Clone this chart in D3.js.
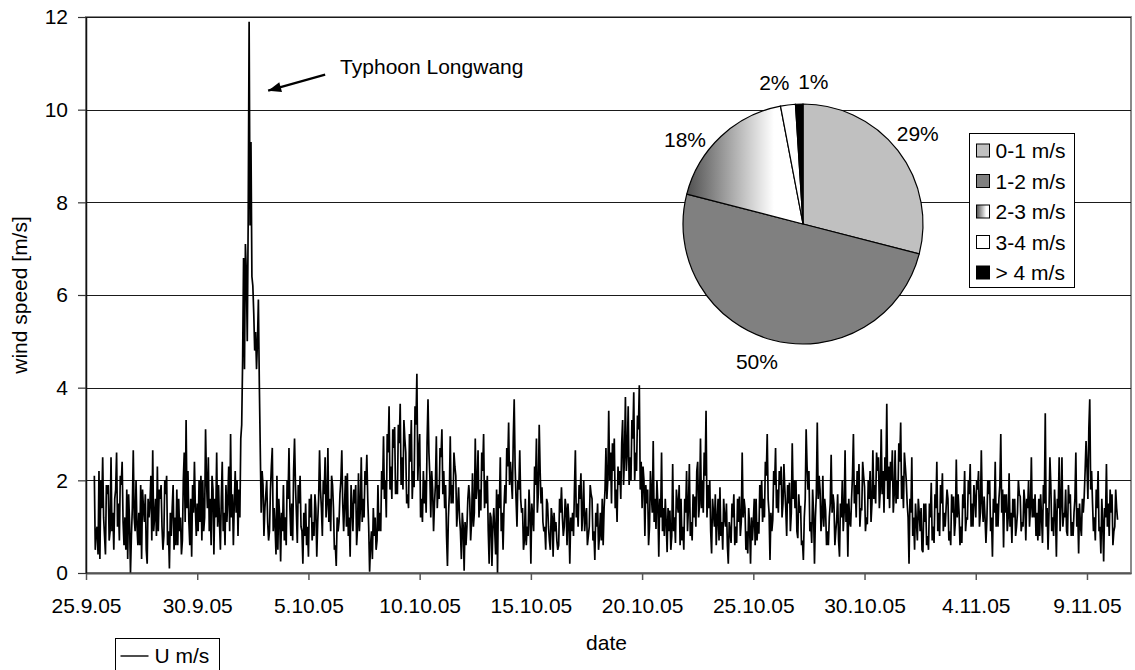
<!DOCTYPE html>
<html>
<head>
<meta charset="utf-8">
<script src="https://cdn.jsdelivr.net/npm/d3@7"></script>
<style>
  body { margin: 0; background: #fff; }
  text { font-family: "Liberation Sans", Arial, sans-serif; font-size: 21px; fill: #000; }
</style>
</head>
<body>
<svg id="chart" width="1135" height="670"></svg>
<script>
// Hourly wind speed [m/s] from 25.9.05 09:00, one row of 24 values per day
const firstSample = "25.9.05 09:00";
const stepMinutes = 60;
const windSpeed = [
  2.1, 0.5, 0.9, 1.0, 0.4, 2.2, 0.3, 2.0, 1.4, 2.5, 1.2, 0.8, 0.4, 1.9, 1.7, 1.9, 0.7, 0.9, 2.5, 0.9, 1.3, 0.5, 1.6, 1.8,
  2.6, 1.0, 1.5, 0.7, 2.1, 1.9, 2.4, 1.1, 0.6, 1.2, 0.5, 1.8, 0.3, 1.7, 1.1, 0.0, 0.8, 1.4, 2.65, 1.2, 0.9, 2.0, 1.0, 0.6,
  1.3, 0.6, 1.9, 0.3, 1.8, 1.4, 1.1, 1.7, 0.5, 0.2, 1.6, 1.2, 1.5, 2.1, 0.7, 2.65, 0.9, 1.2, 1.6, 0.8, 2.3, 0.9, 1.8, 1.6,
  1.9, 1.0, 0.5, 0.8, 2.0, 1.7, 2.1, 0.6, 0.9, 0.1, 1.3, 0.8, 1.4, 1.9, 0.5, 1.2, 0.6, 1.8, 0.6, 1.6, 0.9, 1.2, 0.4, 0.7,
  2.0, 2.6, 1.1, 3.3, 1.4, 2.2, 1.1, 0.6, 1.6, 0.35, 1.9, 1.3, 2.4, 1.4, 0.8, 1.5, 0.9, 2.0, 1.1, 2.1, 0.7, 2.0, 0.9, 1.2,
  3.1, 2.0, 1.4, 2.5, 0.9, 1.6, 0.6, 2.1, 1.8, 0.4, 1.6, 1.2, 2.6, 1.0, 1.9, 1.1, 0.5, 1.6, 2.4, 0.9, 1.3, 0.6, 1.9, 1.1,
  1.6, 2.3, 0.9, 3.0, 1.2, 1.7, 0.6, 1.5, 2.2, 1.3, 2.0, 0.8, 1.8, 1.2, 2.9, 3.2, 4.6, 6.8, 4.4, 7.1, 6.5, 5.0, 7.6, 11.9,
  7.5, 9.3, 6.4, 6.2, 5.6, 4.8, 5.2, 4.4, 5.0, 5.9, 4.1, 2.7, 1.3, 2.2, 1.9, 0.8, 1.4, 1.7, 2.0, 1.1, 0.7, 0.9, 1.8, 2.3,
  2.7, 0.9, 1.4, 1.0, 0.4, 2.1, 0.5, 1.6, 1.2, 0.25, 1.3, 0.9, 1.9, 0.7, 1.2, 0.6, 2.0, 1.6, 2.7, 1.4, 0.8, 1.5, 0.7, 2.2,
  2.9, 1.9, 1.3, 0.65, 1.9, 1.5, 2.1, 1.0, 0.9, 0.2, 1.3, 0.8, 1.5, 0.6, 1.0, 0.35, 1.6, 1.2, 1.7, 0.7, 1.1, 0.8, 1.7, 1.4,
  0.35, 1.1, 1.6, 2.65, 1.8, 1.4, 0.8, 2.0, 1.7, 2.5, 1.2, 1.5, 2.7, 1.1, 1.6, 0.9, 2.1, 1.9, 1.4, 0.5, 0.6, 0.15, 1.2, 0.9,
  1.1, 1.7, 2.0, 2.65, 1.5, 0.9, 1.5, 2.1, 1.0, 2.15, 0.8, 1.2, 0.35, 1.9, 1.4, 0.9, 1.8, 1.5, 1.9, 0.6, 1.0, 2.15, 0.9, 1.4,
  2.5, 1.1, 1.6, 1.2, 2.2, 1.9, 2.55, 1.6, 1.0, 0.03, 0.6, 0.9, 0.3, 1.4, 0.8, 1.2, 0.5, 0.7, 1.9, 0.9, 1.3, 0.9, 2.2, 1.8,
  2.95, 1.6, 2.0, 1.2, 3.0, 2.6, 3.6, 1.8, 2.3, 1.6, 3.1, 2.7, 3.15, 1.7, 2.0, 1.7, 3.2, 2.8, 3.65, 1.9, 2.5, 1.8, 3.3, 2.9,
  2.6, 1.5, 1.7, 1.4, 3.0, 2.4, 3.3, 1.6, 2.2, 1.85, 3.6, 3.2, 4.3, 2.0, 2.6, 3.0, 1.2, 1.6, 1.1, 2.2, 1.5, 2.0, 1.3, 2.8,
  3.75, 2.6, 2.1, 1.2, 2.2, 1.8, 0.9, 1.5, 1.9, 2.95, 1.4, 1.9, 1.6, 2.7, 2.5, 3.1, 1.7, 2.2, 1.4, 1.9, 0.8, 0.15, 1.2, 1.7,
  2.95, 1.5, 1.9, 1.5, 2.6, 2.3, 2.1, 1.0, 1.4, 1.85, 1.2, 0.9, 0.3, 1.3, 1.0, 0.05, 1.1, 0.6, 1.0, 1.6, 1.9, 1.6, 0.7, 1.1,
  2.15, 1.0, 1.3, 2.9, 1.6, 1.9, 2.65, 1.2, 1.8, 1.35, 2.6, 2.2, 3.0, 1.4, 2.0, 1.5, 2.1, 0.9, 0.2, 1.3, 1.2, 0.15, 1.0, 1.4,
  0.9, 0.4, 1.8, 0.0, 1.7, 1.4, 2.5, 0.9, 1.3, 0.5, 1.4, 1.9, 1.5, 2.7, 2.3, 3.25, 1.9, 2.4, 2.0, 1.6, 2.9, 3.75, 2.3, 1.6,
  1.0, 2.0, 1.8, 2.65, 1.6, 1.3, 1.4, 0.5, 0.7, 1.6, 0.6, 1.0, 0.8, 1.8, 1.3, 0.2, 1.5, 1.2, 0.9, 2.3, 1.9, 2.9, 1.3, 1.7,
  3.2, 2.2, 1.5, 1.85, 1.1, 0.9, 1.0, 0.5, 1.6, 1.5, 1.0, 0.7, 0.5, 1.4, 1.2, 0.35, 1.3, 0.9, 1.1, 0.7, 0.5, 0.6, 1.6, 1.3,
  1.85, 1.2, 0.8, 1.0, 1.6, 1.4, 0.6, 1.5, 1.1, 0.2, 1.2, 0.9, 1.3, 0.8, 1.8, 2.65, 1.2, 1.5, 1.0, 1.9, 1.6, 2.15, 0.9, 1.3,
  2.0, 0.9, 1.2, 1.4, 0.6, 0.8, 1.0, 1.9, 1.7, 1.6, 0.7, 0.9, 0.28, 1.3, 1.0, 1.5, 0.5, 0.8, 1.3, 0.7, 1.6, 0.6, 1.4, 1.8,
  2.7, 1.6, 2.0, 3.5, 2.0, 2.6, 1.5, 2.8, 2.2, 2.9, 1.4, 1.8, 1.1, 2.3, 1.9, 2.2, 1.6, 2.8, 3.3, 1.9, 2.5, 3.8, 2.2, 2.6,
  3.6, 1.9, 2.5, 2.0, 3.3, 2.9, 3.9, 2.0, 2.6, 2.2, 3.4, 3.1, 4.05, 1.8, 2.4, 1.4, 2.3, 2.0, 0.8, 1.9, 1.5, 1.8, 0.6, 1.0,
  2.2, 1.7, 1.3, 2.85, 1.1, 1.6, 0.95, 2.0, 1.5, 0.35, 1.6, 1.2, 2.6, 0.9, 1.4, 0.8, 1.6, 1.1, 0.45, 1.4, 0.9, 1.35, 0.5, 0.8,
  2.35, 0.9, 1.2, 0.65, 1.8, 1.5, 1.3, 1.9, 0.6, 1.6, 0.7, 1.0, 0.5, 1.6, 1.3, 2.2, 0.9, 1.4, 2.35, 0.8, 1.1, 0.7, 1.7, 1.2,
  1.65, 1.0, 2.2, 2.4, 1.2, 1.5, 2.9, 1.4, 2.0, 1.3, 2.6, 2.1, 3.5, 1.2, 1.9, 1.4, 2.0, 0.9, 0.42, 1.6, 1.3, 1.0, 1.7, 0.6,
  1.15, 1.6, 0.7, 1.85, 0.8, 1.1, 0.5, 1.6, 1.2, 1.0, 1.5, 0.6, 0.2, 1.1, 0.9, 0.65, 1.5, 1.2, 1.7, 0.6, 1.0, 0.65, 1.6, 1.1,
  1.65, 0.8, 1.1, 2.6, 1.2, 1.6, 1.4, 0.5, 0.9, 0.42, 1.4, 1.0, 0.2, 1.2, 0.7, 1.1, 1.6, 0.6, 1.6, 0.7, 1.1, 0.85, 1.9, 1.4,
  2.0, 1.1, 1.6, 1.2, 2.4, 2.1, 3.0, 1.6, 1.3, 0.28, 1.3, 0.9, 1.15, 2.2, 1.9, 2.7, 1.4, 1.8, 1.3, 2.2, 1.9, 2.3, 1.2, 1.5,
  2.35, 1.8, 1.4, 0.8, 1.9, 1.5, 1.95, 0.9, 1.3, 2.8, 1.6, 2.0, 1.4, 2.0, 0.9, 0.75, 1.7, 1.3, 1.45, 0.6, 0.7, 0.28, 1.2, 1.6,
  3.1, 2.3, 1.8, 2.2, 0.9, 1.1, 0.65, 1.8, 1.3, 0.2, 1.2, 1.7, 3.25, 1.6, 2.1, 1.8, 0.9, 1.2, 2.1, 1.0, 1.6, 1.35, 0.6, 0.9,
  0.6, 1.2, 1.5, 2.55, 1.3, 1.7, 1.5, 0.6, 0.9, 1.15, 1.7, 0.7, 0.35, 1.5, 1.2, 2.0, 0.9, 1.3, 2.65, 1.1, 1.5, 0.35, 1.6, 1.1,
  1.0, 1.6, 2.1, 3.0, 1.5, 1.9, 1.2, 2.2, 1.7, 2.35, 1.0, 1.4, 1.35, 2.4, 2.1, 1.86, 0.9, 1.2, 1.05, 2.0, 1.6, 2.2, 1.1, 1.5,
  2.65, 1.6, 1.9, 1.5, 2.6, 2.2, 2.5, 1.4, 1.8, 3.1, 1.7, 2.2, 1.3, 2.5, 2.0, 3.65, 1.6, 2.3, 1.4, 2.4, 2.0, 2.65, 1.3, 1.7,
  2.65, 1.5, 2.0, 1.6, 2.8, 2.4, 3.25, 1.6, 2.1, 1.4, 2.6, 2.3, 2.0, 1.5, 1.2, 0.2, 1.6, 1.3, 2.5, 0.8, 1.2, 0.5, 1.5, 1.1,
  0.7, 1.6, 1.3, 0.9, 1.4, 0.5, 0.45, 1.5, 1.1, 1.5, 0.6, 0.8, 0.5, 1.5, 1.2, 1.95, 0.7, 1.0, 0.65, 1.7, 1.4, 2.4, 0.9, 1.3,
  0.8, 1.9, 1.5, 2.15, 0.9, 1.3, 1.0, 1.4, 1.8, 1.6, 0.7, 0.9, 0.6, 1.7, 1.3, 1.65, 0.8, 1.1, 2.45, 1.2, 1.7, 1.3, 0.6, 1.0,
  0.65, 1.7, 1.4, 2.2, 0.9, 1.2, 1.15, 2.0, 1.7, 2.35, 1.0, 1.5, 1.0, 1.9, 1.6, 1.2, 2.0, 1.8, 2.2, 1.0, 1.3, 2.65, 1.5, 1.1,
  1.65, 1.2, 0.65, 1.15, 2.0, 1.7, 2.0, 0.9, 1.2, 0.35, 1.6, 1.3, 2.4, 1.0, 1.5, 1.0, 1.6, 1.9, 3.0, 1.3, 1.8, 0.55, 1.7, 1.3,
  1.7, 0.9, 1.2, 2.15, 1.0, 1.3, 0.65, 1.6, 1.2, 1.6, 0.8, 1.0, 1.3, 2.0, 1.7, 1.65, 0.9, 1.1, 1.0, 1.8, 1.5, 0.7, 1.6, 1.4,
  2.0, 1.0, 1.4, 2.5, 1.2, 1.6, 1.2, 1.7, 0.8, 1.3, 0.7, 1.6, 0.8, 1.7, 1.2, 0.65, 1.9, 1.5, 3.45, 1.0, 1.4, 0.5, 1.3, 2.5,
  1.9, 0.9, 1.2, 0.8, 1.8, 1.3, 0.35, 1.6, 1.4, 2.5, 0.9, 1.5, 2.5, 1.0, 1.3, 1.2, 1.8, 0.9, 0.8, 1.9, 1.5, 1.7, 0.8, 1.1,
  0.8, 1.3, 1.6, 2.6, 1.0, 1.4, 0.42, 1.5, 1.0, 0.8, 1.6, 1.3, 1.65, 2.2, 2.85, 2.3, 1.6, 3.1, 3.75, 1.8, 2.2, 1.5, 0.9, 1.2,
  0.7, 1.8, 1.4, 2.2, 0.9, 1.0, 0.42, 1.6, 1.1, 0.25, 1.4, 1.2, 2.35, 1.0, 1.5, 0.8, 1.8, 1.3, 1.7, 0.6, 0.9, 1.0, 1.8, 1.4,
  1.15
];

// Axis ticks
const dateTicks = ["25.9.05", "30.9.05", "5.10.05", "10.10.05", "15.10.05",
                   "20.10.05", "25.10.05", "30.10.05", "4.11.05", "9.11.05"];
const axisStart = "25.9.05 00:00";
const axisEnd = "10.11.05 23:30";
const speedTicks = [0, 2, 4, 6, 8, 10, 12];

// Frequency distribution of wind speed classes (%)
const speedClasses = ["0-1 m/s", "1-2 m/s", "2-3 m/s", "3-4 m/s", "> 4 m/s"];
const classShares = [29, 50, 18, 2, 1];
const classFills = ["#c0c0c0", "#808080", "url(#shade23)", "#ffffff", "#000000"];

const annotationText = "Typhoon Longwang";
const seriesName = "U m/s";

// ---------------------------------------------------------------
const svg = d3.select("#chart");
const plot = { left: 86, right: 1131, top: 17, bottom: 573 };

const parseDay = d3.utcParse("%d.%m.%y");
const parseTime = d3.utcParse("%d.%m.%y %H:%M");
const t0 = parseTime(firstSample);
const series = windSpeed.map((v, i) => ({ t: new Date(+t0 + i * stepMinutes * 60e3), v }));

const x = d3.scaleUtc()
  .domain([parseTime(axisStart), parseTime(axisEnd)])
  .range([plot.left, plot.right]);
const y = d3.scaleLinear().domain([0, 12]).range([plot.bottom, plot.top]);

const defs = svg.append("defs");
const grad = defs.append("linearGradient").attr("id", "shade23")
  .attr("x1", 0).attr("x2", 1).attr("y1", 0).attr("y2", 0);
grad.append("stop").attr("offset", 0).attr("stop-color", "#505050");
grad.append("stop").attr("offset", 0.75).attr("stop-color", "#ffffff");
grad.append("stop").attr("offset", 1).attr("stop-color", "#ffffff");

// plot area frame
svg.append("rect")
  .attr("x", plot.left).attr("y", plot.top)
  .attr("width", plot.right - plot.left).attr("height", plot.bottom - plot.top)
  .attr("fill", "none").attr("stroke", "#8a8a8a").attr("stroke-width", 2);

// horizontal gridlines
svg.append("g").selectAll("line")
  .data(speedTicks.filter(d => d > 0))
  .join("line")
  .attr("x1", plot.left).attr("x2", plot.right)
  .attr("y1", d => Math.round(y(d)) + 0.5).attr("y2", d => Math.round(y(d)) + 0.5)
  .attr("stroke", "#1a1a1a").attr("stroke-width", 1);

// wind speed line
svg.append("path")
  .datum(series)
  .attr("fill", "none")
  .attr("stroke", "#000")
  .attr("stroke-width", 1.7)
  .attr("stroke-linejoin", "miter")
  .attr("stroke-miterlimit", 2)
  .attr("d", d3.line().x(d => x(d.t)).y(d => y(d.v)));

// axes
const xAxis = svg.append("g")
  .attr("transform", `translate(0,${plot.bottom})`)
  .call(d3.axisBottom(x)
    .tickValues(dateTicks.map(parseDay))
    .tickFormat((d, i) => dateTicks[i])
    .tickSize(7).tickSizeOuter(0).tickPadding(18));
xAxis.select(".domain").attr("stroke", "#555").attr("stroke-width", 2);
xAxis.selectAll(".tick line").attr("stroke", "#555").attr("stroke-width", 1.5);
xAxis.selectAll("text").attr("font-size", 21).attr("font-family", "Liberation Sans, Arial, sans-serif").attr("fill", "#000");

const yAxis = svg.append("g")
  .attr("transform", `translate(${plot.left},0)`)
  .call(d3.axisLeft(y).tickValues(speedTicks).tickFormat(d3.format("d"))
    .tickSize(8).tickSizeOuter(0).tickPadding(10));
yAxis.select(".domain").attr("stroke", "#111").attr("stroke-width", 1.5);
yAxis.selectAll(".tick line").attr("stroke", "#333").attr("stroke-width", 1.2);
yAxis.selectAll("text").attr("font-size", 21).attr("font-family", "Liberation Sans, Arial, sans-serif").attr("fill", "#000");

// axis titles
svg.append("text")
  .attr("transform", `translate(20,${(plot.top + plot.bottom) / 2}) rotate(-90)`)
  .attr("text-anchor", "middle").attr("dy", "0.35em")
  .attr("font-size", 18)
  .text("wind speed [m/s]");
svg.append("text")
  .attr("x", (plot.left + plot.right) / 2 - 2).attr("y", 650)
  .attr("text-anchor", "middle")
  .text("date");

// typhoon annotation with arrow pointing at the peak
const peak = series.reduce((a, b) => (b.v > a.v ? b : a));
const tip = [x(peak.t) + 19, y(peak.v) + 69];
const tail = [tip[0] + 57, tip[1] - 16];
svg.append("line")
  .attr("x1", tail[0]).attr("y1", tail[1]).attr("x2", tip[0]).attr("y2", tip[1])
  .attr("stroke", "#000").attr("stroke-width", 2.2);
{
  const ang = Math.atan2(tip[1] - tail[1], tip[0] - tail[0]);
  const L = 13, W = 5;
  const bx = tip[0] - L * Math.cos(ang), by = tip[1] - L * Math.sin(ang);
  const px = -Math.sin(ang) * W, py = Math.cos(ang) * W;
  svg.append("path")
    .attr("d", `M${tip[0]},${tip[1]}L${bx + px},${by + py}L${bx - px},${by - py}Z`)
    .attr("fill", "#000");
}
svg.append("text")
  .attr("x", tail[0] + 15).attr("y", tail[1] - 1)
  .attr("font-size", 19)
  .text(annotationText);

// pie of speed classes
const pieCenter = [803, 224], pieR = 120;
const pieG = svg.append("g").attr("transform", `translate(${pieCenter})`);
const arcs = d3.pie().sort(null).value(d => d)(classShares);
const arc = d3.arc().innerRadius(0).outerRadius(pieR);
pieG.selectAll("path").data(arcs).join("path")
  .attr("d", arc)
  .attr("fill", (d, i) => classFills[i])
  .attr("stroke", "#000").attr("stroke-width", 1.2);

// percentage labels just outside the rim
const labelNudge = [[-3, -5], [-9, 4], [-16, 17], [-10, -4], [15, -4]];
pieG.selectAll("text.pct").data(arcs).join("text")
  .attr("class", "pct")
  .attr("text-anchor", "middle").attr("dy", "0.35em")
  .attr("x", (d, i) => {
    const a = (d.startAngle + d.endAngle) / 2;
    return (pieR + 8) * Math.sin(a) + Math.sin(a) * 21 + labelNudge[i][0];
  })
  .attr("y", (d, i) => {
    const a = (d.startAngle + d.endAngle) / 2;
    return -(pieR + 8) * Math.cos(a) - Math.cos(a) * 10.5 + labelNudge[i][1];
  })
  .text(d => d.data + "%");

// class legend
const leg = svg.append("g").attr("transform", "translate(969.5,133.5)");
leg.append("rect").attr("width", 105).attr("height", 154)
  .attr("fill", "#fff").attr("stroke", "#000").attr("stroke-width", 1);
const rows = leg.selectAll("g.row").data(speedClasses).join("g")
  .attr("class", "row")
  .attr("transform", (d, i) => `translate(7,${17 + i * 30.5})`);
rows.append("rect").attr("y", -6.5).attr("width", 13).attr("height", 13)
  .attr("fill", (d, i) => classFills[i]).attr("stroke", "#000").attr("stroke-width", 1);
rows.append("text").attr("x", 19).attr("dy", "0.36em").text(d => d);

// series legend
const sl = svg.append("g").attr("transform", "translate(115.5,638.5)");
sl.append("rect").attr("width", 104).attr("height", 40)
  .attr("fill", "#fff").attr("stroke", "#000").attr("stroke-width", 1);
sl.append("line").attr("x1", 5).attr("x2", 33).attr("y1", 17.5).attr("y2", 17.5)
  .attr("stroke", "#000").attr("stroke-width", 1.4);
sl.append("text").attr("x", 39).attr("y", 24.5).text(seriesName);
</script>
</body>
</html>
